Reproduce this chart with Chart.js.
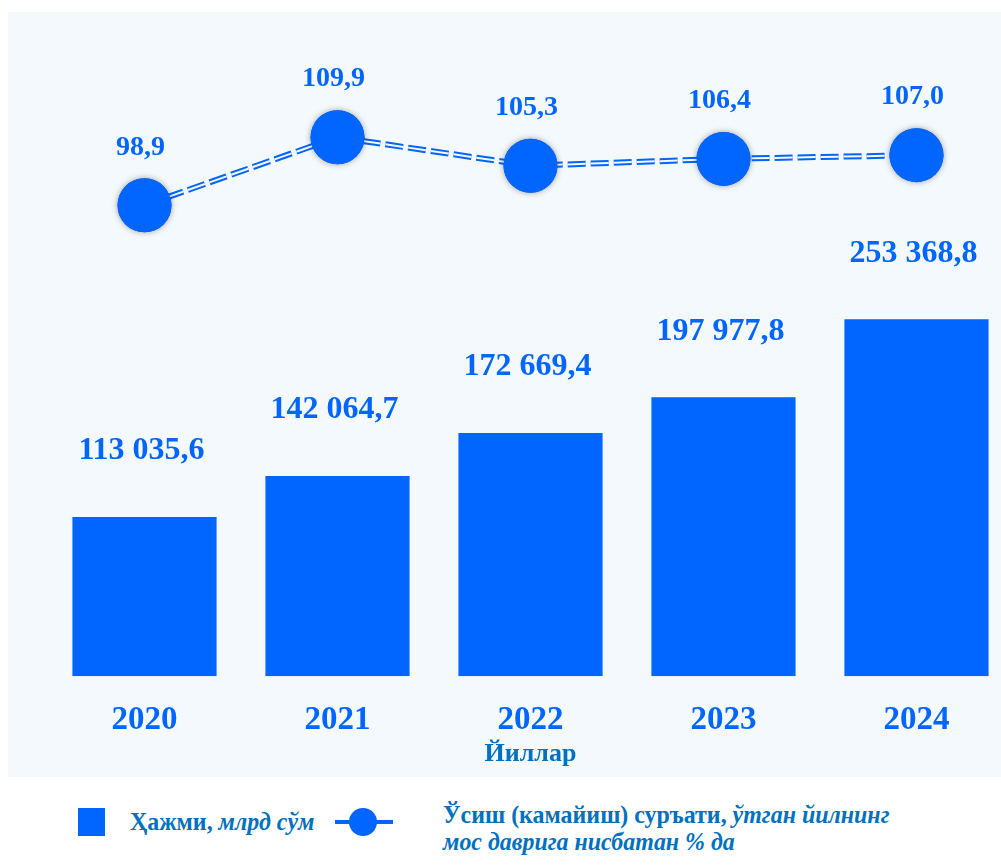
<!DOCTYPE html>
<html lang="uz">
<head>
<meta charset="utf-8">
<title>Ҳажми ва ўсиш суръати</title>
<script src="https://cdn.jsdelivr.net/npm/chart.js@4"></script>
<style>
    html, body { margin: 0; padding: 0; background: #ffffff; overflow: hidden; }
    body { width: 1001px; height: 866px; position: relative; font-family: 'Liberation Serif', 'Times New Roman', serif; }
    #plotBg { position: absolute; left: 8px; top: 12px; width: 993px; height: 765px; background: #F4F9FD; }
    #mainChart { position: absolute; left: 0; top: 0; }
    .legend-text { position: absolute; color: #0070C0; font-weight: bold; font-size: 26px; line-height: 27px; white-space: nowrap; transform: scaleX(0.92); transform-origin: left top; }
    .legend-text i { font-style: italic; }
    #legSquare { position: absolute; left: 78px; top: 808px; width: 27px; height: 28px; background: #0066FF; }
    #legLine { position: absolute; left: 335px; top: 820px; width: 58px; height: 4px; background: #0066FF; }
    #legDot { position: absolute; left: 349px; top: 808px; width: 28px; height: 28px; border-radius: 50%; background: #0066FF; }
</style>
</head>
<body>
<div id="plotBg"></div>
<canvas id="mainChart" width="1014" height="777"></canvas>

<div id="legSquare"></div>
<div class="legend-text" style="left:130px; top:808px;">Ҳажми, <i>млрд сўм</i></div>
<div id="legLine"></div>
<div id="legDot"></div>
<div class="legend-text" style="left:443px; top:801px;">Ўсиш (камайиш) суръати, <i>ўтган йилнинг</i><br><i>мос даврига нисбатан % да</i></div>

<script>
// Маълумотлар
const years = ['2020', '2021', '2022', '2023', '2024'];
const volume = [113035.6, 142064.7, 172669.4, 197977.8, 253368.8];
const growth = [98.9, 109.9, 105.3, 106.4, 107.0];

const BLUE = '#0066FF';
const BG = '#F4F9FD';
const SERIF = "'Liberation Serif', 'Times New Roman', serif";

// Рақамни "113 035,6" кўринишида чиқариш
function fmt(v) {
    const parts = v.toFixed(1).split('.');
    const intPart = parts[0].replace(/\B(?=(\d{3})+(?!\d))/g, ' ');
    return intPart + ',' + parts[1];
}

// Иккита чизиқли штрих ва маркерлар сояси
const doubleLinePlugin = {
    id: 'doubleLine',
    afterDatasetDraw(chart, args) {
        if (args.index !== 1) return;
        const ctx = chart.ctx;
        const pts = args.meta.data;
        ctx.save();
        ctx.beginPath();
        pts.forEach((p, i) => {
            if (i === 0) ctx.moveTo(p.x, p.y);
            else ctx.lineTo(p.x, p.y);
        });
        ctx.setLineDash([18, 5]);
        ctx.lineWidth = 2;
        ctx.strokeStyle = BG;
        ctx.stroke();
        ctx.setLineDash([]);
        ctx.shadowColor = 'rgba(0, 0, 0, 0.35)';
        ctx.shadowBlur = 6;
        pts.forEach(p => p.draw(ctx));
        ctx.restore();
    }
};

// Қиймат ёрлиқлари
const valueLabelsPlugin = {
    id: 'valueLabels',
    afterDatasetsDraw(chart) {
        const ctx = chart.ctx;
        ctx.save();
        ctx.fillStyle = BLUE;
        ctx.textAlign = 'center';
        ctx.textBaseline = 'middle';

        ctx.font = 'bold 32px ' + SERIF;
        chart.getDatasetMeta(0).data.forEach((bar, i) => {
            ctx.fillText(fmt(volume[i]), bar.x - 3, bar.y - 66);
        });

        ctx.font = 'bold 28px ' + SERIF;
        chart.getDatasetMeta(1).data.forEach((pt, i) => {
            ctx.fillText(growth[i].toFixed(1).replace('.', ','), pt.x - 4, pt.y - 58);
        });
        ctx.restore();
    }
};

const ctx = document.getElementById('mainChart');
new Chart(ctx.getContext('2d'), {
    data: {
        labels: years,
        datasets: [{
            type: 'bar',
            label: 'Ҳажми, млрд сўм',
            data: volume,
            backgroundColor: BLUE,
            borderWidth: 0,
            categoryPercentage: 1,
            barPercentage: 0.747,
            yAxisID: 'y'
        }, {
            type: 'line',
            label: 'Ўсиш (камайиш) суръати',
            data: growth,
            borderColor: BLUE,
            borderWidth: 6,
            borderDash: [18, 5],
            tension: 0,
            pointRadius: 27,
            pointHoverRadius: 27,
            pointBackgroundColor: BLUE,
            pointBorderWidth: 0,
            yAxisID: 'y1'
        }]
    },
    options: {
        responsive: false,
        animation: false,
        events: [],
        layout: {
            autoPadding: false,
            padding: { left: 48, right: 1, top: 20, bottom: 1 }
        },
        plugins: {
            legend: { display: false },
            tooltip: { enabled: false }
        },
        scales: {
            x: {
                grid: { display: false, drawTicks: false },
                border: { display: false },
                ticks: {
                    color: BLUE,
                    padding: 24,
                    font: { family: SERIF, size: 33, weight: 'bold', lineHeight: 1.2 }
                },
                title: {
                    display: true,
                    text: 'Йиллар',
                    color: '#0070C0',
                    padding: { top: -25, bottom: 6 },
                    font: { family: SERIF, size: 26, weight: 'bold', lineHeight: 1.2 }
                }
            },
            y: {
                display: false,
                min: 0,
                max: 465900
            },
            y1: {
                display: false,
                min: 22.85,
                max: 128.83
            }
        }
    },
    plugins: [doubleLinePlugin, valueLabelsPlugin]
});
</script>
</body>
</html>
